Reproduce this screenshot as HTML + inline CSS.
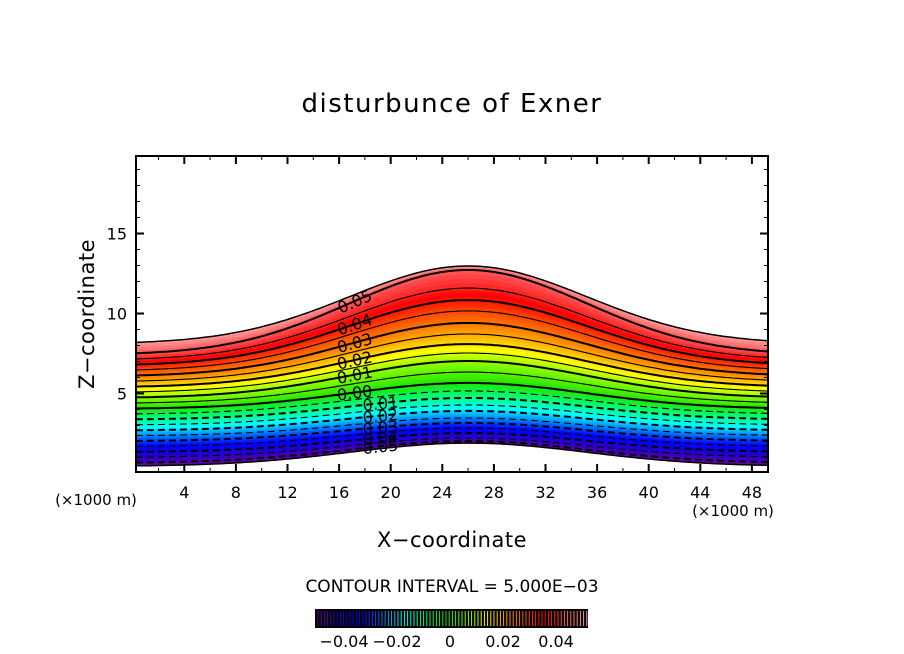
<!DOCTYPE html>
<html><head><meta charset="utf-8"><style>
html,body{margin:0;padding:0;background:#fff;}
svg{display:block;font-family:"DejaVu Sans","Liberation Sans",sans-serif;}
</style></head><body>
<svg id="chart" width="904" height="654" viewBox="0 0 904 654">
<text x="452" y="112" text-anchor="middle" font-size="26" letter-spacing="1.5" fill="#000">disturbunce of Exner</text>
<g id="field"></g>
<g id="lines"></g>
<g id="labels"></g>
<rect x="136" y="156" width="632" height="316" fill="none" stroke="#000" stroke-width="2"/>
<g id="axes"></g>
<text x="94" y="314" text-anchor="middle" font-size="21" letter-spacing="0.5" transform="rotate(-90 94 314)">Z−coordinate</text>
<text x="452" y="547" text-anchor="middle" font-size="21" letter-spacing="0.5">X−coordinate</text>
<text x="96" y="505" text-anchor="middle" font-size="15">(×1000 m)</text>
<text x="733" y="516" text-anchor="middle" font-size="15">(×1000 m)</text>
<text x="452" y="592" text-anchor="middle" font-size="17">CONTOUR INTERVAL = 5.000E−03</text>
<g id="cbar"></g>
</svg>
<script>
// level values (top boundary, contours 0.05..-0.05, bottom boundary)
const levels = [0.06,0.05,0.045,0.04,0.035,0.03,0.025,0.02,0.015,0.01,0.005,0,-0.005,-0.01,-0.015,-0.02,-0.025,-0.03,-0.035,-0.04,-0.045,-0.05,-0.055];
// height (km) of each level at domain edge (flat region)
const zEdge = [8.1,7.41,7.07,6.73,6.40,6.06,5.72,5.38,5.05,4.71,4.37,4.03,3.70,3.36,3.02,2.68,2.35,2.01,1.67,1.33,1.00,0.66,0.45];
// height (km) of each level above hill crest
const zPeak = [12.97,12.72,11.59,10.84,10.16,9.41,8.72,8.09,7.53,7.03,6.34,5.66,5.16,4.72,4.28,3.91,3.47,3.16,2.84,2.53,2.22,2.03,1.9];
const xTicks = [4,8,12,16,20,24,28,32,36,40,44,48];
const yTicks = [5,10,15];
const cbarTicks = [-0.04,-0.02,0,0.02,0.04];
const cbarLabels = ["−0.04","−0.02","0","0.02","0.04"];
const hillCenter = 26, hillWidth = 13;

const NS="http://www.w3.org/2000/svg";
const X0=136,X1=768,Y0=156,Y1=472;
const sx = x => 132.7 + x*12.9;
const sy = z => 473.5 - z*16;
const bump = x => Math.exp(-Math.pow((x-hillCenter)/hillWidth,2));
function zAt(i,x){ return zEdge[i] + (zPeak[i]-zEdge[i])*bump(x); }
function zAtF(f,x){ const i=Math.min(Math.floor(f),levels.length-2), t=f-i; return zAt(i,x)*(1-t)+zAt(i+1,x)*t; }
const stops=[[-0.055,[110,0,160]],[-0.045,[40,0,200]],[-0.035,[0,0,255]],[-0.025,[0,140,255]],[-0.018,[0,255,255]],[-0.01,[0,255,140]],[0,[30,230,0]],[0.01,[150,255,0]],[0.017,[255,255,0]],[0.025,[255,165,0]],[0.035,[255,70,0]],[0.042,[255,0,0]],[0.05,[255,90,90]],[0.06,[255,160,160]]];
function col(v){ if(v<=stops[0][0])return stops[0][1]; for(let k=1;k<stops.length;k++){ if(v<=stops[k][0]){const a=stops[k-1],b=stops[k],t=(v-a[0])/(b[0]-a[0]); return a[1].map((c,j)=>Math.round(c+(b[1][j]-c)*t));}} return stops[stops.length-1][1]; }
const rgb=c=>`rgb(${c[0]},${c[1]},${c[2]})`;
const xs=[]; for(let x=0.25;x<=49.3;x+=0.25) xs.push(x);
function path(f){ return xs.map((x,k)=>(k?'L':'M')+sx(x).toFixed(1)+','+sy(zAtF(f,x)).toFixed(1)).join(''); }
const field=document.getElementById('field');
const SUB=4;
for(let i=0;i<levels.length-1;i++){
  for(let s=0;s<SUB;s++){
    const f0=i+s/SUB,f1=i+(s+1)/SUB;
    const v=levels[i]+(levels[i+1]-levels[i])*(s+0.5)/SUB;
    const top=xs.map((x,k)=>(k?'L':'M')+sx(x).toFixed(1)+','+sy(zAtF(f0,x)).toFixed(1)).join('');
    const bot=xs.slice().reverse().map(x=>'L'+sx(x).toFixed(1)+','+sy(zAtF(f1,x)).toFixed(1)).join('');
    const p=document.createElementNS(NS,'path');
    p.setAttribute('d',top+bot+'Z'); p.setAttribute('fill',rgb(col(v))); p.setAttribute('stroke',rgb(col(v))); p.setAttribute('stroke-width','0.6');
    
    
    field.appendChild(p);
  }
}
const lines=document.getElementById('lines');
for(let i=0;i<levels.length;i++){
  const p=document.createElementNS(NS,'path');
  p.setAttribute('d',path(i)); p.setAttribute('fill','none'); p.setAttribute('stroke','#000');
  const v=levels[i], major=Math.abs(Math.round(v*1000))%10===0;
  p.setAttribute('stroke-width', (i===0||i===levels.length-1)?1.5:(major?2:1.1));
  if(v<0 && i!==levels.length-1) p.setAttribute('stroke-dasharray','7,4');
  
  
  lines.appendChild(p);
}
const labs=document.getElementById('labels');
for(let i=1;i<levels.length-1;i++){
  const v=levels[i]; if(Math.abs(Math.round(v*1000))%10!==0) continue;
  const x=v>=0?17.2:19.2; const y=sy(zAt(i,x));
  const ang=Math.atan2(sy(zAt(i,x+1))-sy(zAt(i,x-1)), 2*12.9)*180/Math.PI;
  const t=document.createElementNS(NS,'text');
  t.setAttribute('x',sx(x)); t.setAttribute('y',y+6); t.setAttribute('text-anchor','middle'); t.setAttribute('font-size','16');
  t.setAttribute('transform',`rotate(${ang} ${sx(x)} ${y})`);
  t.textContent=Math.abs(v).toFixed(2);
  
  
  labs.appendChild(t);
}
const axes=document.getElementById('axes');
function line(x1,y1,x2,y2,w,name){const l=document.createElementNS(NS,'line');l.setAttribute('x1',x1);l.setAttribute('y1',y1);l.setAttribute('x2',x2);l.setAttribute('y2',y2);l.setAttribute('stroke','#000');l.setAttribute('stroke-width',w);


axes.appendChild(l);}
for(let x=2;x<=49;x+=2){const major=x%4===0,L=major?8:4;line(sx(x),Y1,sx(x),Y1-L,major?2:1,'x-tick');line(sx(x),Y0,sx(x),Y0+L,major?2:1,'x-tick-top');}
for(let z=1;z<=19;z++){const major=z%5===0,L=major?8:4;line(X0,sy(z),X0+L,sy(z),major?2:1,'y-tick');line(X1,sy(z),X1-L,sy(z),major?2:1,'y-tick-right');}
xTicks.forEach(x=>{const t=document.createElementNS(NS,'text');t.setAttribute('x',sx(x));t.setAttribute('y',498);t.setAttribute('text-anchor','middle');t.setAttribute('font-size','16');t.textContent=x;


axes.appendChild(t);});
yTicks.forEach(z=>{const t=document.createElementNS(NS,'text');t.setAttribute('x',127);t.setAttribute('y',sy(z)+6);t.setAttribute('text-anchor','end');t.setAttribute('font-size','16');t.textContent=z;


axes.appendChild(t);});
// colorbar
const cb=document.getElementById('cbar');
const CX0=315,CX1=588,CY0=609,CY1=628,VMIN=-0.055,VMAX=0.06;
const lx=v=>450+v*2650;
const bg=document.createElementNS(NS,'rect');bg.setAttribute('x',CX0);bg.setAttribute('y',CY0);bg.setAttribute('width',CX1-CX0);bg.setAttribute('height',CY1-CY0);bg.setAttribute('fill','#000');


cb.appendChild(bg);
for(let x=CX0+3;x<CX1-1;x+=3.2){const v=VMIN+(x-CX0)/(CX1-CX0)*(VMAX-VMIN);const l=document.createElementNS(NS,'line');l.setAttribute('x1',x);l.setAttribute('x2',x);l.setAttribute('y1',CY0+2);l.setAttribute('y2',CY1-2);l.setAttribute('stroke',rgb(col(v)));l.setAttribute('stroke-width','1');


cb.appendChild(l);}
cbarTicks.forEach((v,k)=>{const t=document.createElementNS(NS,'text');t.setAttribute('x',lx(v));t.setAttribute('y',647);t.setAttribute('text-anchor','middle');t.setAttribute('font-size','16');t.textContent=cbarLabels[k];


cb.appendChild(t);});
</script>
</body></html>
